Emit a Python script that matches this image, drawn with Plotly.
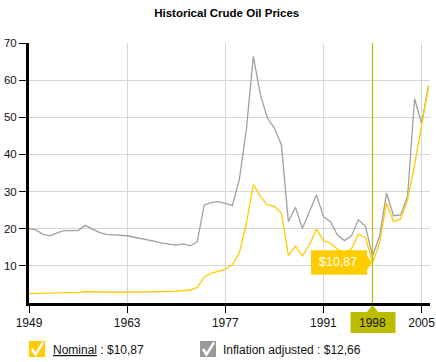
import plotly.graph_objects as go

years = list(range(1949, 2007))
nominal = [2.5, 2.5, 2.5, 2.5, 2.7, 2.8, 2.8, 2.8, 3.1, 3.0,
           2.9, 2.9, 2.9, 2.9, 2.9, 2.9, 2.9, 2.9, 3.0, 3.0,
           3.1, 3.2, 3.4, 3.5, 4.2, 7.0, 8.0, 8.5, 9.1, 10.3,
           13.4, 21.4, 31.9, 28.7, 26.4, 26.0, 24.2, 12.8, 15.3, 12.7,
           15.6, 19.9, 16.8, 16.1, 14.5, 13.3, 14.6, 18.5, 17.7, 10.87,
           16.1, 26.9, 21.9, 22.6, 27.8, 37.2, 47.5, 58.3]
adjusted = [20.1, 19.7, 18.5, 18.1, 18.9, 19.5, 19.5, 19.5, 20.9, 19.9,
            19.0, 18.5, 18.4, 18.3, 18.1, 17.7, 17.4, 17.0, 16.6, 16.1,
            15.9, 15.6, 15.9, 15.4, 16.5, 26.4, 27.0, 27.3, 26.8, 26.2,
            33.2, 46.6, 66.4, 56.1, 49.8, 47.1, 42.6, 21.9, 25.8, 20.1,
            24.6, 29.1, 23.3, 21.9, 18.3, 16.8, 18.1, 22.4, 20.6, 12.66,
            17.9, 29.6, 23.5, 23.7, 28.7, 55.0, 48.4, 58.5]
x_ticks = [1949, 1963, 1977, 1991, 2005]
y_ticks = [10, 20, 30, 40, 50, 60, 70]
selected_year = 1998
title = "Historical Crude Oil Prices"

YELLOW = "#FFCC00"
GRAY = "#999999"
OLIVE = "#BDBD00"
W, H = 436, 362
ML, MR, MT, MB = 29, 6, 43, 59
PW, PH = W - ML - MR, H - MT - MB
X0, X1 = 1949, 2006.2
Y0, Y1 = 0, 70
FONT = "Liberation Sans, Arial"


def xp(px):
    return (px - ML) / PW


def yp(py):
    return (H - MB - py) / PH


def x_px(v):
    return ML + (v - X0) / (X1 - X0) * PW


def y_px(v):
    return H - MB - (v - Y0) / (Y1 - Y0) * PH


idx = years.index(selected_year)
sel_nom = nominal[idx]
sel_adj = adjusted[idx]

fig = go.Figure()
fig.add_trace(go.Scatter(x=years, y=adjusted, mode="lines",
                         line=dict(color="#A0A0A0", width=1.3), hoverinfo="skip"))
fig.add_trace(go.Scatter(x=years, y=nominal, mode="lines",
                         line=dict(color=YELLOW, width=1.3), hoverinfo="skip"))

shapes = []
annotations = []

# crosshair
sx = x_px(selected_year)
shapes.append(dict(type="line", xref="paper", yref="paper", x0=xp(sx), x1=xp(sx),
                   y0=0, y1=1, line=dict(color=OLIVE, width=1.2), layer="above"))

# year label box under the axis
shapes.append(dict(type="rect", xref="paper", yref="paper",
                   x0=xp(sx - 22), x1=xp(sx + 23), y0=yp(333), y1=yp(312),
                   fillcolor=OLIVE, line=dict(width=0)))
shapes.append(dict(type="path", xref="paper", yref="paper",
                   path=f"M {xp(sx-6)} {yp(312.5)} L {xp(sx)} {yp(305)} L {xp(sx+6)} {yp(312.5)} Z",
                   fillcolor=OLIVE, line=dict(width=0)))
annotations.append(dict(xref="paper", yref="paper", x=xp(sx), y=yp(322.5),
                        xanchor="center", yanchor="middle",
                        text=str(selected_year), showarrow=False,
                        font=dict(family=FONT, size=12, color="#111111")))

# tooltip
ty = y_px(sel_nom)
bx1 = sx - 5.5
bx0 = bx1 - 56
shapes.append(dict(type="rect", xref="paper", yref="paper",
                   x0=xp(bx0), x1=xp(bx1), y0=yp(ty + 12), y1=yp(ty - 12.5),
                   fillcolor=YELLOW, line=dict(width=0), layer="above"))
shapes.append(dict(type="path", xref="paper", yref="paper",
                   path=f"M {xp(bx1-0.5)} {yp(ty-8)} L {xp(sx-0.5)} {yp(ty)} L {xp(bx1-0.5)} {yp(ty+8)} Z",
                   fillcolor=YELLOW, line=dict(width=0), layer="above"))
annotations.append(dict(xref="paper", yref="paper", x=xp((bx0 + bx1) / 2 - 1), y=yp(ty - 0.5),
                        xanchor="center", yanchor="middle",
                        text="$" + f"{sel_nom:.2f}".replace(".", ","), showarrow=False,
                        font=dict(family=FONT, size=12.5, color="white")))


# legend
def checkbox(x0, color):
    shapes.append(dict(type="rect", xref="paper", yref="paper",
                       x0=xp(x0), x1=xp(x0 + 16), y0=yp(357), y1=yp(341),
                       fillcolor=color, line=dict(width=0)))
    shapes.append(dict(type="path", xref="paper", yref="paper",
                       path=(f"M {xp(x0+3)} {yp(349)} L {xp(x0+6.5)} {yp(354.5)} "
                             f"L {xp(x0+14)} {yp(342.5)}"),
                       line=dict(color="white", width=2.4)))


checkbox(29, YELLOW)
checkbox(200, GRAY)
annotations.append(dict(xref="paper", yref="paper", x=xp(51), y=yp(350), xanchor="left",
                        yanchor="middle",
                        text="<u>Nominal</u> : $" + f"{sel_nom:.2f}".replace(".", ","),
                        showarrow=False,
                        font=dict(family=FONT, size=12, color="#111111")))
annotations.append(dict(xref="paper", yref="paper", x=xp(221), y=yp(350), xanchor="left",
                        yanchor="middle",
                        text="Inflation adjusted : $" + f"{sel_adj:.2f}".replace(".", ","),
                        showarrow=False,
                        font=dict(family=FONT, size=12, color="#111111")))

fig.update_layout(
    width=W, height=H,
    margin=dict(l=ML, r=MR, t=MT, b=MB, pad=0, autoexpand=False),
    paper_bgcolor="white", plot_bgcolor="white",
    showlegend=False,
    hovermode=False,
    title=dict(text="<b>" + title + "</b>", x=0.52, xanchor="center", y=1 - 13 / H,
               yanchor="middle", automargin=False,
               font=dict(family=FONT, size=11.5, color="#000000")),
    xaxis=dict(range=[X0, X1], tickvals=x_ticks, ticktext=[str(v) for v in x_ticks],
               automargin=False,
               showgrid=True, gridcolor="#D6D6D6", gridwidth=1,
               showline=True, linecolor="#000000", linewidth=3,
               ticks="outside", ticklen=7, tickcolor="#000000", tickwidth=1,
               zeroline=False, fixedrange=True,
               tickfont=dict(family=FONT, size=12, color="#111111")),
    yaxis=dict(range=[Y0, Y1], tickvals=y_ticks, automargin=False,
               showgrid=True, gridcolor="#D6D6D6", gridwidth=1,
               showline=True, linecolor="#000000", linewidth=3,
               ticks="outside", ticklen=7, tickcolor="#000000", tickwidth=1,
               zeroline=False, fixedrange=True,
               tickfont=dict(family=FONT, size=11.5, color="#111111")),
    shapes=shapes,
    annotations=annotations,
)

fig.write_html("out.html", config={"displayModeBar": False},
               post_script="document.body.style.margin='0';document.body.style.padding='0';")
